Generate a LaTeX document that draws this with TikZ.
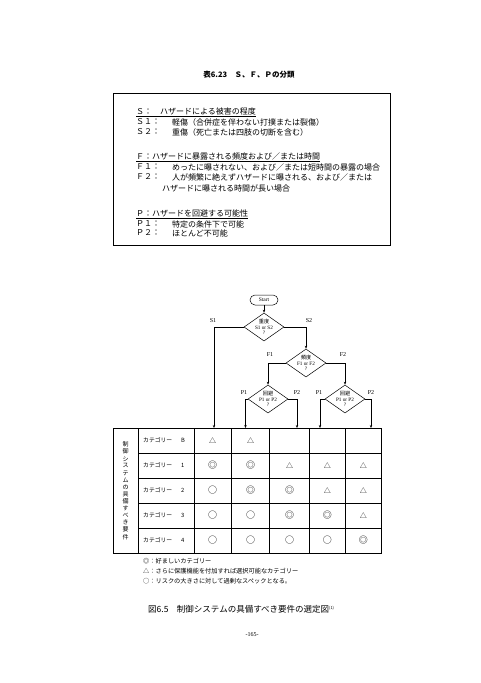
\documentclass[tikz,border=0pt]{standalone}
\usepackage{fontspec}
\setmainfont{Liberation Serif}
\newfontfamily\jp{Noto Sans CJK JP}
\usetikzlibrary{shapes.geometric, arrows.meta, positioning}

\begin{document}
\begin{tikzpicture}[x=1pt, y=-1pt,
  boxtext/.style={anchor=west, inner sep=0pt, font=\jp\fontsize{8}{9}\selectfont},
  decision/.style={diamond, draw, line width=0.5pt, aspect=1.4, minimum width=40pt, minimum height=28pt, inner sep=0pt, align=center, font=\fontsize{5.2}{5.4}\selectfont},
  terminal/.style={rectangle, rounded corners=5pt, draw, line width=0.5pt, minimum width=28pt, minimum height=10pt, inner sep=0pt, font=\fontsize{5.5}{6}\selectfont},
  branch/.style={inner sep=0pt, font=\fontsize{6}{7}\selectfont},
  arrow/.style={-{Stealth[length=3pt, width=2.4pt]}, line width=0.5pt},
  rule/.style={line width=0.5pt},
  rowhead/.style={anchor=west, inner sep=0pt, font=\jp\fontsize{5.8}{6}\selectfont},
  symb/.style={inner sep=0pt, font=\jp\fontsize{9}{9}\selectfont},
  tri/.style={inner sep=0pt, font=\jp\fontsize{7}{7}\selectfont},
  legend/.style={anchor=west, inner sep=0pt, font=\jp\fontsize{6.2}{7}\selectfont}
]
\fill[white] (0,0) rectangle (480,683);
\useasboundingbox (0,0) rectangle (480,683);

\node[inner sep=0pt, font=\jp\bfseries\fontsize{7.5}{9}\selectfont] (title) at (249,75) {表6.23　Ｓ、Ｆ、Ｐの分類};

\draw[rule] (113,93) rectangle (390,245);
\node[boxtext] (shead) at (136,112) {\underline{Ｓ：　ハザードによる被害の程度}};
\node[boxtext] (s1) at (136,122) {Ｓ１：};
\node[boxtext] (s1t) at (172,122) {軽傷（合併症を伴わない打撲または裂傷）};
\node[boxtext] (s2) at (136,132) {Ｓ２：};
\node[boxtext] (s2t) at (172,132) {重傷（死亡または四肢の切断を含む）};
\node[boxtext] (fhead) at (136,157) {\underline{Ｆ：ハザードに暴露される頻度および／または時間}};
\node[boxtext] (f1) at (136,167) {Ｆ１：};
\node[boxtext] (f1t) at (172,167) {めったに曝されない、および／または短時間の暴露の場合};
\node[boxtext] (f2) at (136,177) {Ｆ２：};
\node[boxtext] (f2t) at (172,177) {人が頻繁に絶えずハザードに曝される、および／または};
\node[boxtext] (f2u) at (162,188) {ハザードに曝される時間が長い場合};
\node[boxtext] (phead) at (136,214) {\underline{Ｐ：ハザードを回避する可能性}};
\node[boxtext] (p1) at (136,224) {Ｐ１：};
\node[boxtext] (p1t) at (172,224) {特定の条件下で可能};
\node[boxtext] (p2) at (136,233) {Ｐ２：};
\node[boxtext] (p2t) at (172,233) {ほとんど不可能};

\node[terminal] (start) at (264,300) {Start};
\node[decision] (sev) at (264,327) {{\jp 重度}\\S1 or S2\\?};
\node[decision] (freq) at (306,363) {{\jp 頻度}\\F1 or F2\\?};
\node[decision] (avoida) at (268,399) {{\jp 回避}\\P1 or P2\\?};
\node[decision] (avoidb) at (345,399) {{\jp 回避}\\P1 or P2\\?};

\coordinate (c1) at (214,428);
\coordinate (c2) at (245.5,428);
\coordinate (c3) at (297,428);
\coordinate (c4) at (320,428);
\coordinate (c5) at (371,428);

\draw[arrow] (start) -- (sev);
\draw[arrow] (sev.west) -| (c1);
\draw[arrow] (sev.east) -| (freq.north);
\draw[arrow] (freq.west) -| (avoida.north);
\draw[arrow] (freq.east) -| (avoidb.north);
\draw[arrow] (avoida.west) -| (c2);
\draw[arrow] (avoida.east) -| (c3);
\draw[arrow] (avoidb.west) -| (c4);
\draw[arrow] (avoidb.east) -| (c5);

\node[branch] (ls1) at (213,321) {S1};
\node[branch] (ls2) at (309,321) {S2};
\node[branch] (lf1) at (270,355) {F1};
\node[branch] (lf2) at (343,355) {F2};
\node[branch] (lp1a) at (244,393) {P1};
\node[branch] (lp2a) at (297,393) {P2};
\node[branch] (lp1b) at (319,393) {P1};
\node[branch] (lp2b) at (371,393) {P2};

\draw[rule] (113,428) rectangle (381,553);
\draw[line width=1pt] (113,428) -- (381,428);
\foreach \x in {138,193.9,231.3,269.7,309.2,345.6}
  \draw[rule] (\x,428) -- (\x,553);
\foreach \y in {453,478,503,528}
  \draw[rule] (138,\y) -- (381,\y);

\foreach \ch [count=\i] in {制,御,シ,ス,テ,ム,の,具,備,す,べ,き,要,件}
  \node[inner sep=0pt, font=\jp\fontsize{6}{6}\selectfont] (v\i) at (125.5,437.5+7.1*\i) {\ch};

\foreach \cat [count=\i] in {B,1,2,3,4}
  \node[rowhead] (cat\i) at (143,415.5+25*\i) {カテゴリー\hspace{9pt}\cat};

\node[tri] (m11) at (212.6,440.5) {△};
\node[tri] (m12) at (250.5,440.5) {△};
\node[symb] (m21) at (212.6,465.5) {◎};
\node[symb] (m22) at (250.5,465.5) {◎};
\foreach \x [count=\j from 3] in {289.5,327.4,363.3}
  \node[tri] (m2\j) at (\x,465.5) {△};
\node[symb] (m31) at (212.6,490.5) {○};
\node[symb] (m32) at (250.5,490.5) {◎};
\node[symb] (m33) at (289.5,490.5) {◎};
\node[tri] (m34) at (327.4,490.5) {△};
\node[tri] (m35) at (363.3,490.5) {△};
\node[symb] (m41) at (212.6,515.5) {○};
\node[symb] (m42) at (250.5,515.5) {○};
\node[symb] (m43) at (289.5,515.5) {◎};
\node[symb] (m44) at (327.4,515.5) {◎};
\node[tri] (m45) at (363.3,515.5) {△};
\foreach \x [count=\j] in {212.6,250.5,289.5,327.4}
  \node[symb] (m5\j) at (\x,540.5) {○};
\node[symb] (m55) at (363.3,540.5) {◎};

\node[legend] (lg1) at (143,561) {◎：好ましいカテゴリー};
\node[legend] (lg2) at (143,571) {△：さらに保護機能を付加すれば選択可能なカテゴリー};
\node[legend] (lg3) at (143,581) {○：リスクの大きさに対して過剰なスペックとなる。};

\node[anchor=west, inner sep=0pt, font=\jp\fontsize{8.5}{9}\selectfont] (caption) at (148,609) {図6.5　制御システムの具備すべき要件の選定図\textsuperscript{\fontsize{4}{4}\selectfont (1)}};
\node[inner sep=0pt, font=\fontsize{6}{6}\selectfont] (page) at (252,635) {-165-};
\end{tikzpicture}
\end{document}
